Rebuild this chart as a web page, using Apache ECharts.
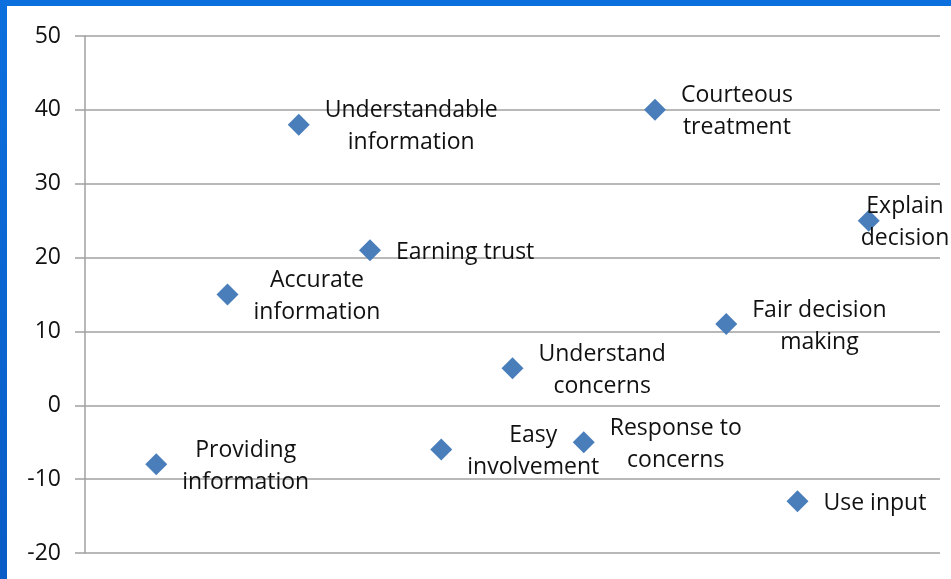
<!DOCTYPE html>
<html>
<head>
<meta charset="utf-8">
<script src="https://cdn.jsdelivr.net/npm/echarts@6/dist/echarts.min.js"></script>
<style>
html,body{margin:0;padding:0;background:#fff;}
#wrap{position:relative;width:951px;height:579px;overflow:hidden;}
#chart{position:absolute;left:0;top:0;width:951px;height:579px;}
#bt{position:absolute;left:0;top:0;width:951px;height:6px;background:#0b6fde;}
#bl{position:absolute;left:0;top:0;width:7px;height:579px;background:linear-gradient(#0b6fde,#0a5cc6);}
</style>
</head>
<body>
<div id="wrap"><div id="chart"></div><div id="bt"></div><div id="bl"></div></div>
<script>
const categories = ['Providing\ninformation','Accurate\ninformation','Understandable\ninformation','Earning trust','Easy\ninvolvement','Understand\nconcerns','Response to\nconcerns','Courteous\ntreatment','Fair decision\nmaking','Use input','Explain\ndecision'];
const xValues = [1,2,3,4,5,6,7,8,9,10,11];
const yValues = [-8,15,38,21,-6,5,-5,40,11,-13,25];
const yTicks = [-20,-10,0,10,20,30,40,50];

const font = '"Open Sans", sans-serif';
const data = categories.map((c,i)=>{
  const item = {value:[xValues[i], yValues[i]], name:c};
  if (i === 10) item.label = {distance: -19};
  return item;
});

const chart = echarts.init(document.getElementById('chart'));
chart.setOption({
  animation:false,
  backgroundColor:'#ffffff',
  grid:{left:85,right:11,top:36,bottom:26,containLabel:false},
  xAxis:{type:'value',min:0,max:12,show:false},
  yAxis:{type:'value',min:yTicks[0],max:yTicks[yTicks.length-1],interval:10,
    axisLine:{show:true,lineStyle:{color:'#a0a0a0',width:1.5}},
    axisTick:{show:true,length:10,lineStyle:{color:'#a0a0a0',width:1.5}},
    splitLine:{show:true,lineStyle:{color:'#a0a0a0',width:1.5}},
    axisLabel:{margin:24,color:'#111111',fontFamily:font,fontSize:23}
  },
  series:[{
    type:'scatter',
    symbol:'diamond',
    symbolSize:22,
    itemStyle:{color:'#4a7ebb',opacity:1},
    data:data,
    label:{
      show:true,position:'right',distance:15,
      formatter:p=>p.name.split('\n').map(s=>'{a|'+s+'}').join('\n'),
      rich:{a:{align:'center',fontFamily:font,fontSize:23,lineHeight:32,color:'#111111'}},
      offset:[0,2]
    }
  }]
});
</script>
</body>
</html>
